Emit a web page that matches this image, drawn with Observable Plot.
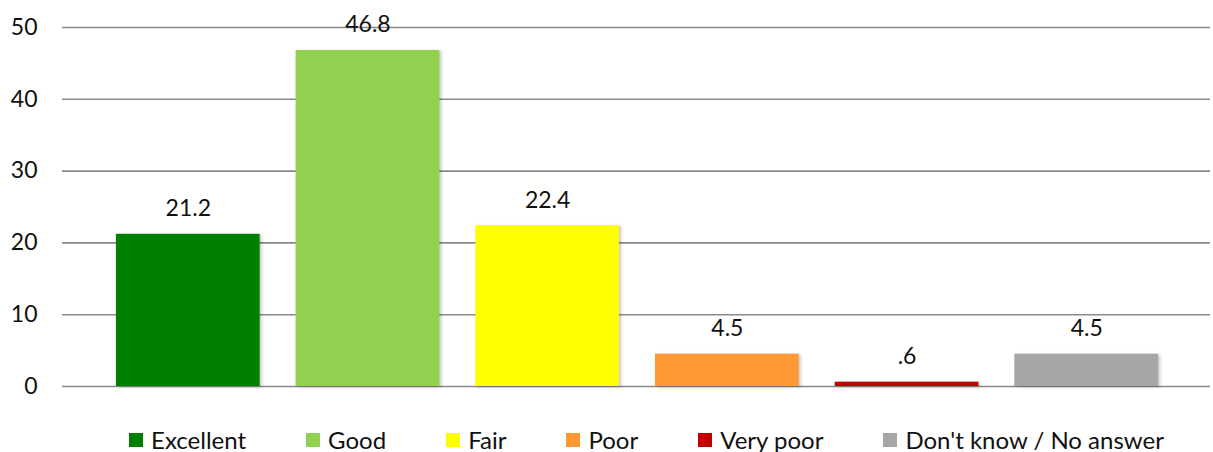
<!DOCTYPE html>
<html>
<head>
<meta charset="utf-8">
<script src="https://cdn.jsdelivr.net/npm/d3@7"></script>
<script src="https://cdn.jsdelivr.net/npm/@observablehq/plot@0.6"></script>
<style>
  body { margin: 0; background: #fff; font-family: Lato, "Noto Sans", sans-serif; }
  #chart svg { display: block; }
  .legend {
    display: flex; justify-content: center; align-items: center;
    gap: 60px; padding-top: 15px; padding-left: 80px;
    font-size: 24px; line-height: 30px; color: #111;
  }
  .legend .item { display: flex; align-items: center; }
  .legend .swatch { width: 14px; height: 14px; margin-right: 8px; }
</style>
</head>
<body>
<div id="chart"></div>
<script>
// Ratings and their shares (%)
const categories = ["Excellent", "Good", "Fair", "Poor", "Very poor", "Don't know / No answer"];
const values = [21.2, 46.8, 22.4, 4.5, 0.6, 4.5];
const colors = ["#008000", "#92D050", "#FFFF00", "#FF9933", "#C00000", "#A6A6A6"];
const yTicks = [0, 10, 20, 30, 40, 50];

const data = categories.map((c, i) => ({category: c, value: values[i]}));
// Labels drop the leading zero, e.g. ".6"
const fmt = v => d3.format(".1f")(v).replace(/^0\./, ".");

const chart = Plot.plot({
  width: 1213,
  height: 410,
  marginLeft: 62,
  marginRight: 1,
  marginTop: 27,
  marginBottom: 24,
  style: {fontFamily: "Lato, 'Noto Sans', sans-serif", fontSize: "23px", color: "#111", background: "#fff"},
  x: {domain: categories, paddingInner: 0.2, paddingOuter: 0.3, round: false, axis: null},
  y: {domain: [0, 50], ticks: yTicks, tickSize: 0, tickPadding: 25, label: null, tickFormat: d => d},
  color: {domain: categories, range: colors},
  marks: [
    Plot.ruleY(yTicks, {stroke: "#8a8a8a", strokeWidth: 1.6, insetRight: 2}),
    Plot.barY(data, {x: "category", y: "value", fill: "category"}),
    Plot.text(data, {x: "category", y: "value", text: d => fmt(d.value), lineAnchor: "bottom", dy: -18, fill: "#111", fontSize: 23})
  ]
});

// soft shadow under the bars
const barGroup = chart.querySelector('g[aria-label="bar"]');
if (barGroup) barGroup.style.filter = "drop-shadow(2px 1px 1.5px rgba(0,0,0,0.22))";

document.getElementById("chart").appendChild(chart);

// legend row below the chart
const legend = document.createElement("div");
legend.className = "legend";
categories.forEach((c, i) => {
  const item = document.createElement("div");
  item.className = "item";
  const sw = document.createElement("span");
  sw.className = "swatch";
  sw.style.background = colors[i];
  const label = document.createElement("span");
  label.textContent = c;
  item.appendChild(sw);
  item.appendChild(label);
  legend.appendChild(item);
});
document.body.appendChild(legend);
</script>
</body>
</html>
